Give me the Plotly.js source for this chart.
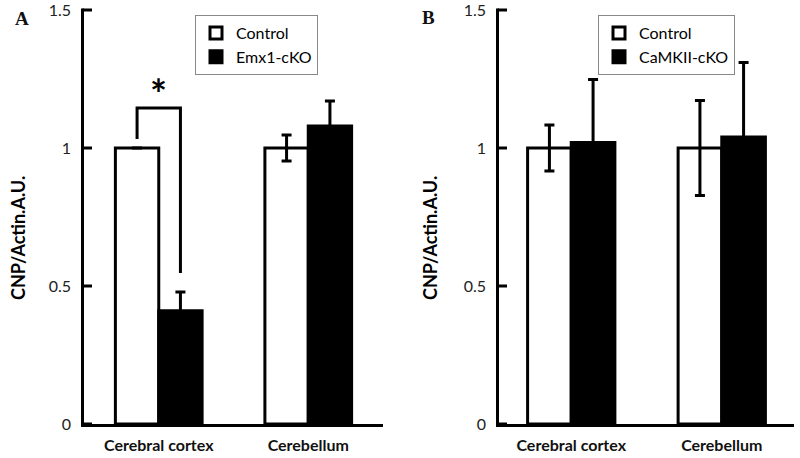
<!DOCTYPE html>
<html>
<head>
<meta charset="utf-8">
<script src="https://cdn.plot.ly/plotly-3.0.1.min.js"></script>
<style>
body{margin:0;}
</style>
</head>
<body>
<div id="chart"></div>
<script>
// ---- data ----
var categories = ["Cerebral cortex", "Cerebellum"];
var tickVals = [0, 0.5, 1, 1.5];
var tickText = ["0", "0.5", "1", "1.5"];

// Panel A
var controlA = [1.0, 1.0];
var controlAErr = [0.0, 0.047];
var emx1 = [0.41, 1.08];
var emx1Err = [0.068, 0.09];

// Panel B
var controlB = [1.0, 1.0];
var controlBErr = [0.083, 0.172];
var camk = [1.02, 1.04];
var camkErr = [0.228, 0.27];

// significance bracket in panel A (y values)
var sigBracketY = [1.033, 1.145, 1.145, 0.547];
var sigStarY = 1.195;

// ---- geometry / styling ----
var FONT = "Lato, 'Open Sans', sans-serif";
var bargap = 0.42;
var half = (1 - bargap) / 4; // centre offset of each bar within the group
var xPos = categories.map(function (c, i) { return i; });
var yMax = 1.5;

var W = 800, H = 458, L = 81, R = 6, T = 8, B = 31;
var PW = W - L - R, PH = H - T - B;
function px(x) { return (x - L) / PW; }
function py(y) { return (H - B - y) / PH; }

var LW = 3;          // frame line width (px)
var TL = 8;          // inside tick length (px)
var ky = 276;        // px per y unit
// each panel: pixel span of the category scale and its category range
var panels = [
  { xa: "x", ya: "y", pxL: 84, pxR: 383, r0: -0.5, r1: 1.5 },
  { xa: "x2", ya: "y2", pxL: 499, pxR: 794, r0: -0.48, r1: 1.48 }
];
panels.forEach(function (p) {
  p.k = (p.pxR - p.pxL) / (p.r1 - p.r0);
  p.start = p.r0 - LW / p.k;           // range start incl. room for the frame line
});
var yLo = -LW / ky, yHi = yMax + 2 / ky;

function barTrace(name, y, err, fill, xa, ya, legend) {
  return {
    type: "bar", name: name, x: xPos, y: y,
    xaxis: xa, yaxis: ya, legend: legend,
    marker: { color: fill, line: { color: "#000", width: 3 } },
    error_y: { type: "data", array: err, visible: true, color: "#000", thickness: 3, width: 5 }
  };
}

var traces = [
  barTrace("Control", controlA, controlAErr, "#fff", "x", "y", "legend"),
  barTrace("Emx1-cKO", emx1, emx1Err, "#000", "x", "y", "legend"),
  barTrace("Control", controlB, controlBErr, "#fff", "x2", "y2", "legend2"),
  barTrace("CaMKII-cKO", camk, camkErr, "#000", "x2", "y2", "legend2")
];

// axis frame (L-shaped line with inside ticks), built from the axis ranges and tickVals
panels.forEach(function (p) {
  var xc = p.r0 - (LW / 2) / p.k;      // centre of the vertical frame line
  var yc = -(LW / 2) / ky;             // centre of the horizontal frame line
  var fx = [xc, xc, null, p.start, p.r1, null];
  var fy = [yLo, yMax + (LW / 2) / ky, null, yc, yc, null];
  tickVals.forEach(function (v) {
    fx.push(xc, p.r0 + TL / p.k, null);
    fy.push(v, v, null);
  });
  traces.push({
    type: "scatter", mode: "lines", x: fx, y: fy, xaxis: p.xa, yaxis: p.ya,
    showlegend: false, connectgaps: false,
    line: { color: "#000", width: LW }
  });
});

function yAxis(anchor) {
  return {
    domain: [0, 1], anchor: anchor, range: [yLo, yHi],
    tickvals: tickVals, ticktext: tickText,
    ticks: "", showline: false,
    showgrid: false, zeroline: false, automargin: false,
    ticklabelstandoff: 9, ticklabeloverflow: "allow",
    tickfont: { family: FONT, size: 16, color: "#222" }
  };
}
function xAxis(p, anchor) {
  return {
    domain: [px(p.pxL - LW), px(p.pxR)], anchor: anchor, range: [p.start, p.r1],
    tickvals: xPos, ticktext: categories,
    ticks: "", showline: false,
    showgrid: false, zeroline: false, automargin: false,
    ticklabelstandoff: 7, ticklabeloverflow: "allow",
    tickfont: { family: FONT, size: 16, color: "#111", weight: "bold" }
  };
}

function legendBox(xPx) {
  return {
    x: px(xPx), y: py(15), xanchor: "left", yanchor: "top",
    bordercolor: "#888", borderwidth: 1, bgcolor: "#fff",
    font: { family: FONT, size: 16, color: "#000" }
  };
}

// significance bracket, in data coordinates of panel A
var bx = [-half, -half, half, half];
var shapes = [{
  type: "path", xref: "x", yref: "y",
  path: bx.map(function (x, i) { return (i ? "L" : "M") + x + "," + sigBracketY[i]; }).join(" "),
  line: { color: "#000", width: 3 }
}];

var layout = {
  width: W, height: H,
  margin: { l: L, r: R, t: T, b: B },
  barmode: "group", bargap: bargap, bargroupgap: 0,
  xaxis: xAxis(panels[0], "y"),
  yaxis: yAxis("x"),
  xaxis2: xAxis(panels[1], "y2"),
  yaxis2: yAxis("x2"),
  legend: legendBox(195),
  legend2: legendBox(598),
  showlegend: true,
  shapes: shapes,
  annotations: [
    { text: "<b>A</b>", xref: "paper", yref: "paper", x: px(22), y: py(18),
      xanchor: "center", yanchor: "middle", showarrow: false,
      font: { family: "'Liberation Serif', 'Times New Roman', serif", size: 19, color: "#111" } },
    { text: "<b>B</b>", xref: "paper", yref: "paper", x: px(428), y: py(17),
      xanchor: "center", yanchor: "middle", showarrow: false,
      font: { family: "'Liberation Serif', 'Times New Roman', serif", size: 19, color: "#111" } },
    { text: "<b>CNP/Actin.A.U.</b>", xref: "paper", yref: "paper", x: px(18), y: py(238),
      xanchor: "center", yanchor: "middle", textangle: -90, showarrow: false,
      font: { family: FONT, size: 18, color: "#000" } },
    { text: "<b>CNP/Actin.A.U.</b>", xref: "paper", yref: "paper", x: px(430), y: py(238),
      xanchor: "center", yanchor: "middle", textangle: -90, showarrow: false,
      font: { family: FONT, size: 18, color: "#000" } },
    { text: "<b>*</b>", xref: "x", yref: "y", x: 0, y: sigStarY,
      xanchor: "center", yanchor: "middle", showarrow: false,
      font: { family: FONT, size: 40, color: "#000" } }
  ]
};

Plotly.newPlot("chart", traces, layout, { staticPlot: true });
</script>
</body>
</html>
